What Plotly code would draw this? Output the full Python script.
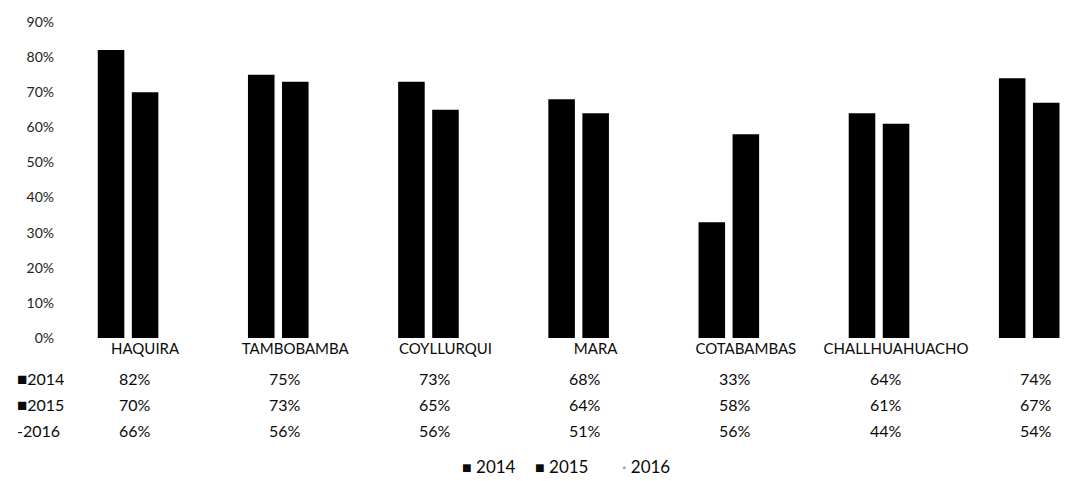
import plotly.graph_objects as go

categories = ["HAQUIRA", "TAMBOBAMBA", "COYLLURQUI", "MARA", "COTABAMBAS", "CHALLHUAHUACHO", ""]
years = ["2014", "2015", "2016"]
v2014 = [0.82, 0.75, 0.73, 0.68, 0.33, 0.64, 0.74]
v2015 = [0.70, 0.73, 0.65, 0.64, 0.58, 0.61, 0.67]
v2016 = [0.66, 0.56, 0.56, 0.51, 0.56, 0.44, 0.54]
series = [v2014, v2015, v2016]
colors = ["#000000", "#000000", "#ffffff"]
ytick_vals = [0, 0.1, 0.2, 0.3, 0.4, 0.5, 0.6, 0.7, 0.8, 0.9]

FONT = "Lato"
TXT = "#0a0a0a"
xs = list(range(len(categories)))

fig = go.Figure()
for name, vals, col in zip(years, series, colors):
    fig.add_trace(go.Bar(x=xs, y=vals, name=name, marker=dict(color=col, line=dict(width=0)),
                         showlegend=False))

# data table under the chart
row_y = [-0.127, -0.212, -0.294]
keys = ["<span style='font-size:17px'>■</span>", "<span style='font-size:17px'>■</span>", "-"]
annotations = []
for yy, name, vals, key in zip(row_y, years, series, keys):
    annotations.append(dict(x=-0.0553, y=yy, xref="paper", yref="paper", xanchor="left", yanchor="middle",
                            text=f"{key}{name}", showarrow=False,
                            font=dict(family=FONT, size=16, color=TXT)))
    for i, v in enumerate(vals):
        annotations.append(dict(x=i - 0.07, y=yy, xref="x", yref="paper", xanchor="center", yanchor="middle",
                                text=f"{round(v*100)}%", showarrow=False,
                                font=dict(family=FONT, size=16, color=TXT)))

# legend below the table
leg_x = [0.392, 0.465, 0.553]
leg_keys = ["<span style='font-size:16px'>■</span>", "<span style='font-size:16px'>■</span>",
            "<span style='color:#999'>·</span>"]
for lx, key, name in zip(leg_x, leg_keys, years):
    annotations.append(dict(x=lx, y=-0.408, xref="paper", yref="paper", xanchor="left", yanchor="middle",
                            text=f"{key} {name}", showarrow=False,
                            font=dict(family=FONT, size=17, color=TXT)))

fig.update_layout(
    width=1065, height=481,
    margin=dict(l=70, r=0, t=22, b=143),
    plot_bgcolor="white", paper_bgcolor="white",
    barmode="group", bargap=0.32, bargroupgap=0.22,
    font=dict(family=FONT, color=TXT),
    xaxis=dict(tickmode="array", tickvals=xs, ticktext=categories, range=[-0.5, 6.125],
               showgrid=False, zeroline=False, showline=False, ticks="",
               tickfont=dict(family=FONT, size=15, color=TXT)),
    yaxis=dict(range=[0, 0.9], tickvals=ytick_vals, tickformat=".0%", showgrid=False,
               zeroline=False, showline=False, ticks="", ticklabelstandoff=15,
               tickfont=dict(family=FONT, size=14, color="#222")),
    annotations=annotations,
    showlegend=False,
)

fig.write_html("out.html", config={"displayModeBar": False},
               post_script="document.body.style.margin='0';")
